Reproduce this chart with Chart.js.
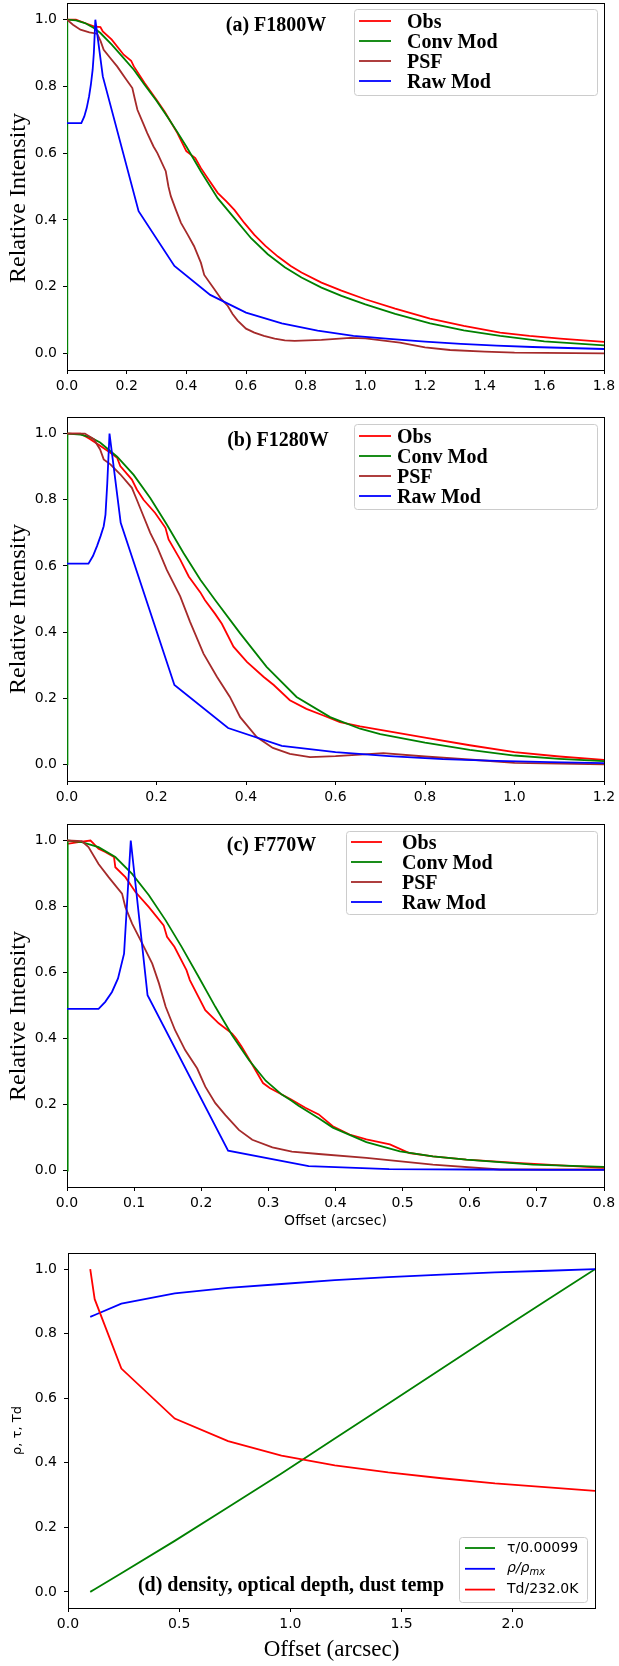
<!DOCTYPE html>
<html>
<head>
<meta charset="utf-8">
<script src="https://cdn.jsdelivr.net/npm/chart.js@4.4.1/dist/chart.umd.min.js"></script>
<style>
  html, body { margin: 0; padding: 0; background: #fff; }
  #page { position: relative; width: 619px; height: 1666px; }
  .panel { position: absolute; left: 0; width: 619px; }
  canvas { display: block; }
</style>
</head>
<body>
<div id="page">
  <div class="panel" style="top:0px"><canvas id="panel-a" width="619" height="400"></canvas></div>
  <div class="panel" style="top:400px"><canvas id="panel-b" width="619" height="410"></canvas></div>
  <div class="panel" style="top:810px"><canvas id="panel-c" width="619" height="425"></canvas></div>
  <div class="panel" style="top:1235px"><canvas id="panel-d" width="619" height="431"></canvas></div>
</div>
<script>
// ---- ticks ----
const yTicks  = [0, 0.2, 0.4, 0.6, 0.8, 1.0];
const xTicksA = [0, 0.2, 0.4, 0.6, 0.8, 1.0, 1.2, 1.4, 1.6, 1.8];
const xTicksB = [0, 0.2, 0.4, 0.6, 0.8, 1.0, 1.2];
const xTicksC = [0, 0.1, 0.2, 0.3, 0.4, 0.5, 0.6, 0.7, 0.8];
const xTicksD = [0, 0.5, 1.0, 1.5, 2.0];

const profileNames  = ['Obs', 'Conv Mod', 'PSF', 'Raw Mod'];
const profileColors = ['#ff0000', '#008000', '#a52a2a', '#0000ff'];
const modelNames    = ['τ/0.00099', 'ρ/ρ_mx', 'Td/232.0K'];
const modelColors   = ['#008000', '#0000ff', '#ff0000'];

// ---- (a) F1800W ----
const aObsX = [0, 0.03, 0.06, 0.09, 0.112, 0.12, 0.15, 0.19, 0.215, 0.224, 0.26, 0.30, 0.327, 0.337, 0.37, 0.40, 0.43, 0.449, 0.475, 0.505, 0.535, 0.561, 0.595, 0.628, 0.665, 0.707, 0.75, 0.786, 0.853, 0.92, 1.0, 1.1, 1.217, 1.33, 1.452, 1.55, 1.653, 1.8];
const aObsY = [1.0, 1.0, 0.99, 0.98, 0.978, 0.965, 0.94, 0.895, 0.877, 0.86, 0.81, 0.76, 0.725, 0.71, 0.66, 0.606, 0.585, 0.555, 0.52, 0.481, 0.455, 0.43, 0.39, 0.355, 0.322, 0.29, 0.262, 0.242, 0.212, 0.188, 0.162, 0.134, 0.104, 0.082, 0.062, 0.052, 0.044, 0.034];
const aConvX = [0, 0.001, 0.03, 0.06, 0.09, 0.112, 0.15, 0.19, 0.224, 0.26, 0.30, 0.337, 0.37, 0.40, 0.449, 0.505, 0.561, 0.617, 0.673, 0.73, 0.786, 0.853, 0.92, 1.0, 1.1, 1.217, 1.33, 1.452, 1.6, 1.8];
const aConvY = [0, 1.0, 0.998, 0.99, 0.975, 0.96, 0.925, 0.885, 0.85, 0.805, 0.757, 0.708, 0.663, 0.62, 0.545, 0.465, 0.405, 0.345, 0.297, 0.258, 0.227, 0.197, 0.172, 0.147, 0.118, 0.09, 0.069, 0.052, 0.036, 0.024];
const aPsfX = [0, 0.02, 0.045, 0.075, 0.101, 0.113, 0.123, 0.145, 0.168, 0.195, 0.219, 0.228, 0.236, 0.255, 0.269, 0.29, 0.303, 0.331, 0.34, 0.348, 0.365, 0.382, 0.405, 0.426, 0.449, 0.46, 0.494, 0.515, 0.539, 0.555, 0.572, 0.6, 0.628, 0.66, 0.696, 0.73, 0.763, 0.853, 0.95, 1.0, 1.116, 1.2, 1.284, 1.4, 1.5, 1.8];
const aPsfY = [1.0, 0.985, 0.97, 0.962, 0.958, 0.935, 0.91, 0.885, 0.86, 0.825, 0.795, 0.76, 0.73, 0.69, 0.66, 0.62, 0.60, 0.546, 0.5, 0.471, 0.43, 0.391, 0.355, 0.321, 0.271, 0.235, 0.192, 0.165, 0.142, 0.118, 0.098, 0.074, 0.062, 0.052, 0.044, 0.039, 0.037, 0.04, 0.046, 0.045, 0.032, 0.018, 0.01, 0.005, 0.002, 0.0];
const aRawX = [0, 0.048, 0.058, 0.066, 0.074, 0.08, 0.086, 0.09, 0.095, 0.12, 0.24, 0.36, 0.48, 0.60, 0.72, 0.84, 0.96, 1.08, 1.20, 1.32, 1.44, 1.56, 1.68, 1.80];
const aRawY = [0.69, 0.69, 0.71, 0.735, 0.77, 0.805, 0.85, 0.9, 1.0, 0.83, 0.426, 0.262, 0.175, 0.122, 0.09, 0.068, 0.052, 0.043, 0.035, 0.028, 0.023, 0.019, 0.016, 0.013];

// ---- (b) F1280W ----
const bObsX = [0, 0.03, 0.052, 0.074, 0.097, 0.112, 0.119, 0.145, 0.156, 0.171, 0.197, 0.22, 0.227, 0.253, 0.272, 0.298, 0.308, 0.331, 0.346, 0.372, 0.402, 0.439, 0.462, 0.498, 0.535, 0.573, 0.61, 0.655, 0.8, 0.9, 1.0, 1.1, 1.2];
const bObsY = [1.0, 1.0, 0.983, 0.963, 0.942, 0.927, 0.902, 0.861, 0.831, 0.80, 0.76, 0.715, 0.68, 0.619, 0.568, 0.52, 0.497, 0.455, 0.425, 0.356, 0.31, 0.265, 0.24, 0.194, 0.168, 0.148, 0.128, 0.115, 0.081, 0.058, 0.037, 0.024, 0.014];
const bConvX = [0, 0.001, 0.03, 0.05, 0.074, 0.112, 0.149, 0.186, 0.223, 0.26, 0.298, 0.331, 0.387, 0.446, 0.513, 0.588, 0.655, 0.7, 0.8, 0.9, 1.0, 1.1, 1.2];
const bConvY = [0, 1.0, 0.997, 0.99, 0.973, 0.93, 0.875, 0.805, 0.725, 0.64, 0.558, 0.497, 0.396, 0.295, 0.204, 0.143, 0.108, 0.092, 0.066, 0.044, 0.027, 0.017, 0.01];
const bPsfX = [0, 0.04, 0.06, 0.074, 0.082, 0.097, 0.119, 0.145, 0.156, 0.186, 0.201, 0.223, 0.253, 0.275, 0.305, 0.335, 0.364, 0.387, 0.424, 0.46, 0.498, 0.543, 0.6, 0.655, 0.707, 0.8, 0.93, 1.0, 1.2];
const bPsfY = [1.0, 1.0, 0.983, 0.952, 0.922, 0.907, 0.877, 0.836, 0.80, 0.70, 0.659, 0.588, 0.508, 0.431, 0.335, 0.265, 0.204, 0.143, 0.083, 0.05, 0.032, 0.022, 0.025, 0.03, 0.034, 0.024, 0.012, 0.005, 0.0];
const bRawX = [0, 0.048, 0.058, 0.067, 0.075, 0.082, 0.086, 0.09, 0.095, 0.12, 0.24, 0.36, 0.48, 0.60, 0.72, 0.84, 0.96, 1.08, 1.20];
const bRawY = [0.607, 0.607, 0.63, 0.66, 0.69, 0.72, 0.755, 0.85, 1.0, 0.73, 0.24, 0.11, 0.056, 0.037, 0.025, 0.016, 0.011, 0.007, 0.004];

// ---- (c) F770W ----
const cObsX = [0, 0.017, 0.035, 0.04, 0.047, 0.057, 0.07, 0.072, 0.087, 0.102, 0.122, 0.144, 0.149, 0.16, 0.178, 0.183, 0.206, 0.226, 0.246, 0.252, 0.26, 0.272, 0.292, 0.302, 0.334, 0.355, 0.375, 0.396, 0.421, 0.446, 0.481, 0.51, 0.545, 0.595, 0.67, 0.8];
const cObsY = [0.99, 0.995, 1.0, 0.99, 0.975, 0.965, 0.95, 0.919, 0.889, 0.844, 0.798, 0.743, 0.708, 0.678, 0.607, 0.577, 0.486, 0.446, 0.415, 0.40, 0.376, 0.335, 0.265, 0.25, 0.215, 0.19, 0.17, 0.134, 0.109, 0.094, 0.079, 0.053, 0.043, 0.033, 0.023, 0.008];
const cConvX = [0, 0.001, 0.022, 0.047, 0.072, 0.097, 0.122, 0.147, 0.171, 0.196, 0.221, 0.246, 0.271, 0.296, 0.32, 0.334, 0.345, 0.375, 0.396, 0.446, 0.496, 0.545, 0.595, 0.694, 0.8];
const cConvY = [0, 1.0, 0.995, 0.98, 0.95, 0.899, 0.834, 0.758, 0.677, 0.587, 0.496, 0.41, 0.335, 0.272, 0.23, 0.212, 0.196, 0.158, 0.13, 0.086, 0.058, 0.043, 0.033, 0.018, 0.011];
const cPsfX = [0, 0.022, 0.032, 0.047, 0.062, 0.082, 0.087, 0.097, 0.112, 0.127, 0.137, 0.147, 0.161, 0.176, 0.194, 0.206, 0.221, 0.236, 0.256, 0.276, 0.306, 0.335, 0.375, 0.446, 0.545, 0.645, 0.8];
const cPsfY = [1.0, 0.998, 0.98, 0.929, 0.889, 0.839, 0.798, 0.748, 0.688, 0.627, 0.567, 0.496, 0.425, 0.365, 0.309, 0.254, 0.204, 0.168, 0.123, 0.093, 0.07, 0.057, 0.05, 0.038, 0.018, 0.003, 0.003];
const cRawX = [0, 0.047, 0.057, 0.067, 0.076, 0.085, 0.095, 0.12, 0.24, 0.36, 0.48, 0.60, 0.72, 0.80];
const cRawY = [0.49, 0.49, 0.511, 0.541, 0.582, 0.657, 1.0, 0.531, 0.06, 0.013, 0.004, 0.003, 0.002, 0.002];

// ---- (d) density, optical depth, dust temp ----
const dX   = [0.1, 0.12, 0.24, 0.48, 0.72, 0.96, 1.2, 1.44, 1.68, 1.92, 2.16, 2.37];
const dTau = [0, 0.008, 0.058, 0.158, 0.262, 0.367, 0.475, 0.583, 0.691, 0.8, 0.907, 1.0];
const dRho = [0.852, 0.858, 0.893, 0.925, 0.942, 0.954, 0.966, 0.975, 0.983, 0.99, 0.995, 1.0];
const dTd  = [1.0, 0.907, 0.692, 0.537, 0.467, 0.422, 0.392, 0.37, 0.352, 0.336, 0.324, 0.313];

const serif = "'Liberation Serif', 'Times New Roman', serif";
const sans  = "'DejaVu Sans', 'Liberation Sans', sans-serif";

function curve(label, color, xs, ys, order) {
    return {
        label,
        data: xs.map((x, i) => ({ x, y: ys[i] })),
        borderColor: color,
        backgroundColor: color,
        borderWidth: 1.8,
        pointRadius: 0,
        showLine: true,
        order,
    };
}

// matplotlib draws later lines on top, so give the first series the highest order
function profileSets(series) {
    return series.map(([xs, ys], i) => curve(profileNames[i], profileColors[i], xs, ys, series.length - i));
}

const alignPx = (v) => Math.round(v - 0.5) + 0.5;

// box round the plot area (top and right spines)
const framePlugin = {
    id: 'frame',
    beforeDatasetsDraw(chart) {
        const { ctx, chartArea: a } = chart;
        const l = alignPx(a.left), t = alignPx(a.top), r = alignPx(a.right), b = alignPx(a.bottom);
        ctx.save();
        ctx.strokeStyle = '#000';
        ctx.lineWidth = 1;
        ctx.strokeRect(l, t, r - l, b - t);
        ctx.restore();
    },
};

// "a_b" is drawn as a with subscript b (mathtext style, italic)
function drawLabel(ctx, label, x, y, lg) {
    const [main, sub] = label.split('_');
    ctx.font = sub ? 'italic ' + lg.font : lg.font;
    ctx.fillText(main, x, y);
    if (sub) {
        const w = ctx.measureText(main).width;
        ctx.font = lg.subFont;
        ctx.fillText(sub, x + w, y + 4);
    }
}

// panel titles, rotated side labels and an in-axes legend
const notesPlugin = {
    id: 'notes',
    afterDraw(chart, args, opts) {
        const ctx = chart.ctx;
        ctx.save();
        ctx.fillStyle = '#000';
        ctx.textBaseline = 'middle';
        (opts.texts || []).forEach((t) => {
            ctx.save();
            ctx.font = t.font;
            ctx.textAlign = 'center';
            ctx.translate(t.x, t.y);
            if (t.rotate) ctx.rotate(-Math.PI / 2);
            ctx.fillText(t.text, 0, 0);
            ctx.restore();
        });
        const lg = opts.legend;
        if (lg) {
            const [x0, y0, x1, y1] = lg.box;
            ctx.beginPath();
            ctx.roundRect(x0 + 0.5, y0 + 0.5, x1 - x0, y1 - y0, 3);
            ctx.fillStyle = 'rgba(255,255,255,0.85)';
            ctx.fill();
            ctx.strokeStyle = '#cccccc';
            ctx.lineWidth = 1;
            ctx.stroke();
            ctx.textAlign = 'left';
            chart.data.datasets.forEach((ds, i) => {
                const y = lg.y0 + i * lg.dy;
                ctx.strokeStyle = ds.borderColor;
                ctx.lineWidth = 1.8;
                ctx.beginPath();
                ctx.moveTo(lg.line[0], y);
                ctx.lineTo(lg.line[1], y);
                ctx.stroke();
                ctx.fillStyle = '#000';
                drawLabel(ctx, ds.label, lg.textX, y + lg.textDy, lg);
            });
        }
        ctx.restore();
    },
};

Chart.register(framePlugin, notesPlugin);

function makePanel(id, cfg) {
    const canvas = document.getElementById(id);
    const H = canvas.height;
    const area = cfg.area;
    const tickFont = { family: sans, size: 14 };

    return new Chart(canvas, {
        type: 'scatter',
        data: { datasets: cfg.datasets },
        options: {
            responsive: false,
            animation: false,
            devicePixelRatio: 1,
            layout: { padding: { left: 0, top: area.top, right: canvas.width - area.right, bottom: 0 } },
            plugins: {
                legend: { display: false },
                tooltip: { enabled: false },
                notes: cfg.notes,
            },
            scales: {
                x: {
                    type: 'linear',
                    min: 0,
                    max: cfg.xMax,
                    afterBuildTicks: (s) => { s.ticks = cfg.xTicks.map((v) => ({ value: v })); },
                    afterFit: (s) => { s.height = H - area.bottom; s.paddingLeft = 0; s.paddingRight = 0; },
                    ticks: {
                        font: tickFont, color: '#000', padding: 4,
                        maxRotation: 0, autoSkip: false,
                        callback: (v) => v.toFixed(1),
                    },
                    grid: { drawOnChartArea: false, drawTicks: true, tickLength: 4, color: '#000' },
                    border: { color: '#000', width: 1 },
                    title: cfg.xTitle || { display: false },
                },
                y: {
                    type: 'linear',
                    min: -0.05,
                    max: 1.05,
                    afterBuildTicks: (s) => { s.ticks = yTicks.map((v) => ({ value: v })); },
                    afterFit: (s) => { s.width = area.left; s.paddingTop = 0; s.paddingBottom = 0; },
                    ticks: {
                        font: tickFont, color: '#000', padding: cfg.yPad,
                        autoSkip: false,
                        callback: (v) => v.toFixed(1),
                    },
                    grid: { drawOnChartArea: false, drawTicks: true, tickLength: 4, color: '#000' },
                    border: { color: '#000', width: 1 },
                    title: cfg.yTitle || { display: false },
                },
            },
        },
    });
}

const legendFont = 'bold 20px ' + serif;
const titleFont = 'bold 20px ' + serif;
const sideFont = '24px ' + serif;

makePanel('panel-a', {
    area: { left: 67, top: 3, right: 604, bottom: 370 },
    xMax: 1.8, xTicks: xTicksA, yPad: 6,
    datasets: profileSets([[aObsX, aObsY], [aConvX, aConvY], [aPsfX, aPsfY], [aRawX, aRawY]]),
    notes: {
        texts: [
            { text: '(a) F1800W', x: 276, y: 26, font: titleFont },
            { text: 'Relative Intensity', x: 19, y: 198, font: sideFont, rotate: true },
        ],
        legend: { box: [354, 9, 597, 95], line: [359, 391], textX: 407, y0: 21, dy: 20, textDy: 2, font: legendFont },
    },
});

makePanel('panel-b', {
    area: { left: 67, top: 17, right: 604, bottom: 381 },
    xMax: 1.2, xTicks: xTicksB, yPad: 6,
    datasets: profileSets([[bObsX, bObsY], [bConvX, bConvY], [bPsfX, bPsfY], [bRawX, bRawY]]),
    notes: {
        texts: [
            { text: '(b) F1280W', x: 278, y: 41, font: titleFont },
            { text: 'Relative Intensity', x: 19, y: 209, font: sideFont, rotate: true },
        ],
        legend: { box: [354, 24, 597, 109], line: [359, 391], textX: 397, y0: 36, dy: 20, textDy: 2, font: legendFont },
    },
});

makePanel('panel-c', {
    area: { left: 67, top: 14, right: 604, bottom: 377 },
    xMax: 0.8, xTicks: xTicksC, yPad: 6,
    datasets: profileSets([[cObsX, cObsY], [cConvX, cConvY], [cPsfX, cPsfY], [cRawX, cRawY]]),
    xTitle: { display: true, text: 'Offset (arcsec)', color: '#000', font: { family: sans, size: 14 }, padding: { top: 0, bottom: 5 } },
    notes: {
        texts: [
            { text: '(c) F770W', x: 271.5, y: 36, font: titleFont },
            { text: 'Relative Intensity', x: 19, y: 206, font: sideFont, rotate: true },
        ],
        legend: { box: [346, 21, 597, 104], line: [351, 382], textX: 402, y0: 32, dy: 20, textDy: 1.5, font: legendFont },
    },
});

makePanel('panel-d', {
    area: { left: 68, top: 18, right: 595, bottom: 373 },
    xMax: 2.37, xTicks: xTicksD, yPad: 7,
    datasets: [
        curve(modelNames[0], modelColors[0], dX, dTau, 3),
        curve(modelNames[1], modelColors[1], dX, dRho, 2),
        curve(modelNames[2], modelColors[2], dX, dTd, 1),
    ],
    xTitle: { display: true, text: 'Offset (arcsec)', color: '#000', font: { family: serif, size: 23 }, padding: { top: 0, bottom: 2 } },
    yTitle: { display: true, text: 'ρ, τ, Td', color: '#000', font: { family: sans, size: 13 }, padding: { top: 10, bottom: 0 } },
    notes: {
        texts: [
            { text: '(d) density, optical depth, dust temp', x: 291, y: 351, font: titleFont },
        ],
        legend: {
            box: [459, 302, 587, 367], line: [465, 495], textX: 507, y0: 313, dy: 20.8, textDy: 0,
            font: '14px ' + sans, subFont: 'italic 10px ' + sans,
        },
    },
});
</script>
</body>
</html>
